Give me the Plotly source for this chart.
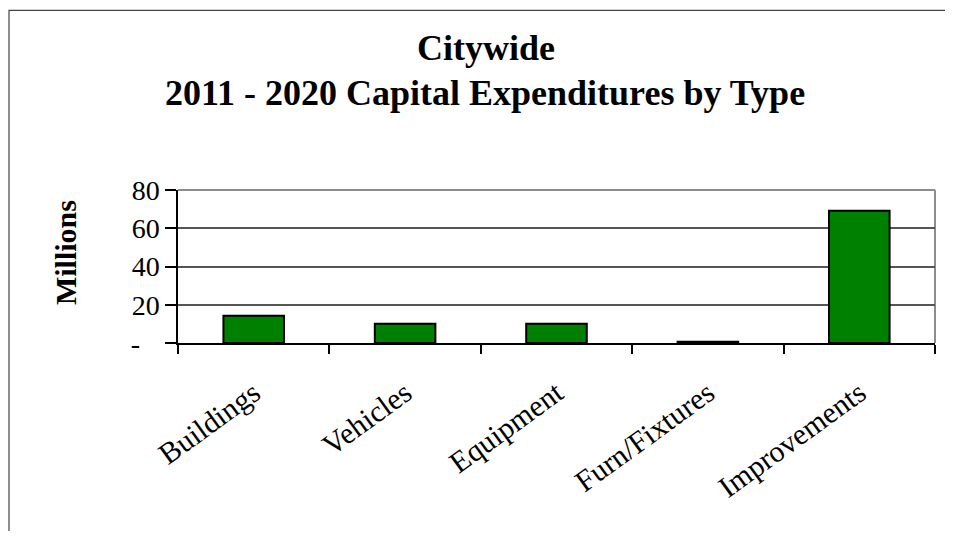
import plotly.graph_objects as go

categories = ["Buildings", "Vehicles", "Equipment", "Furn/Fixtures", "Improvements"]
values = [14.3, 10.1, 10.1, 0.6, 69.2]
y_tick_vals = [0, 20, 40, 60, 80]
y_tick_text = ["-\u00a0\u00a0\u2009", "20", "40", "60", "80"]

# page body has an 8px margin; work in screen pixels and convert
OFF = 8
SW, SH = 953, 545
W, H = SW - 2 * OFF, SH - 2 * OFF - 6
L, R, T, B = 178 - OFF, 935 - OFF, 189.5 - OFF, 343.5 - OFF

def px_x(p):
    return (p - OFF - L) / (R - L)

def px_y(p):
    return (B - (p - OFF)) / (B - T)

fig = go.Figure()
fig.add_trace(go.Bar(
    x=categories, y=values,
    marker=dict(color="#008000", line=dict(color="black", width=2)),
    width=0.40,
))

font = "Liberation Serif, Times New Roman, serif"
fig.update_layout(
    width=W, height=H,
    margin=dict(l=L, r=W - R, t=T, b=H - B),
    paper_bgcolor="white", plot_bgcolor="white",
    showlegend=False,
    font=dict(family=font, color="black"),
    xaxis=dict(
        type="category", showgrid=False, showline=True, linecolor="black", linewidth=1.5,
        ticks="outside", tickson="boundaries", ticklen=9, tickcolor="black", tickwidth=1.5,
        tickangle=-36, ticklabelstandoff=19,
        tickfont=dict(size=30, family=font, color="black"),
    ),
    yaxis=dict(
        range=[0, 80], tickvals=y_tick_vals, ticktext=y_tick_text,
        showgrid=True, gridcolor="#555555", gridwidth=1.5,
        showline=True, linecolor="black", linewidth=1.5,
        ticks="outside", ticklen=11, tickcolor="black", tickwidth=1.5,
        tickfont=dict(size=28, family=font, color="black"), zeroline=False,
    ),
    shapes=[
        dict(type="line", xref="paper", yref="paper", x0=0, x1=1, y0=1, y1=1,
             line=dict(color="#8c8c8c", width=2), layer="below"),
        dict(type="line", xref="paper", yref="paper", x0=1, x1=1, y0=0, y1=1,
             line=dict(color="#8c8c8c", width=2), layer="below"),
        dict(type="rect", xref="paper", yref="paper", x0=px_x(9), x1=px_x(SW + 20), y0=px_y(8.8), y1=px_y(SH + 20),
             line=dict(color="#444444", width=1.2), fillcolor="rgba(0,0,0,0)", layer="below"),
    ],
    annotations=[
        dict(text="<b>Citywide</b>", xref="paper", yref="paper", x=px_x(486), y=px_y(47),
             showarrow=False, font=dict(size=36, family=font, color="black"), xanchor="center", yanchor="middle"),
        dict(text="<b>2011 - 2020 Capital Expenditures by Type</b>", xref="paper", yref="paper",
             x=px_x(485), y=px_y(92), showarrow=False, font=dict(size=36, family=font, color="black"),
             xanchor="center", yanchor="middle"),
        dict(text="<b>Millions</b>", xref="paper", yref="paper", x=px_x(65), y=px_y(253),
             showarrow=False, textangle=-90, font=dict(size=30, family=font, color="black"),
             xanchor="center", yanchor="middle"),
    ],
)

fig.write_html("out.html")
